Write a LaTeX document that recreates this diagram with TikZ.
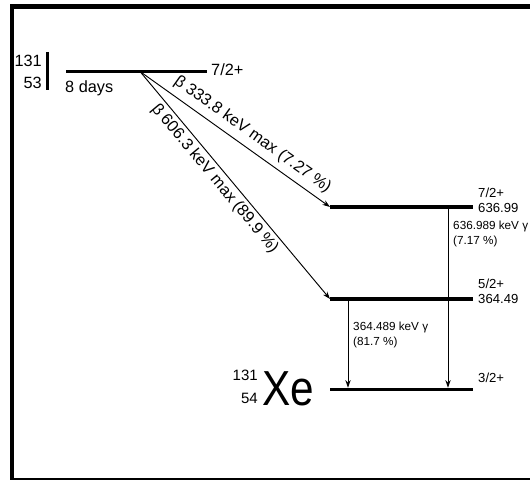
\documentclass[tikz,border=0pt]{standalone}
\usepackage{fontspec}
\setmainfont{Liberation Sans}
\usetikzlibrary{arrows.meta,positioning}

\begin{document}
\begin{tikzpicture}[x=0.03cm,y=-0.03cm,
  level/.style={line width=3.4pt},
  decay/.style={line width=0.8pt,-{Stealth[length=6.5pt,width=4.5pt]}},
  bigtext/.style={font=\fontsize{13.9}{16}\selectfont,inner sep=0pt},
  midtext/.style={font=\fontsize{11.2}{13}\selectfont,inner sep=0pt},
  smalltext/.style={font=\fontsize{10}{12}\selectfont,inner sep=0pt,align=left}]
  \useasboundingbox (0,0) rectangle (530,480);
  \draw[line width=3.7pt] (530,6.5) -- (12,6.5) -- (12,480.5) -- (530,480.5);

  \node[bigtext,anchor=base east] (iA) at (42,67) {131};
  \node[bigtext,anchor=base east] (iZ) at (42,89) {53};
  \draw[line width=3.4pt] (47.5,52) -- (47.5,90);

  \coordinate (top-l) at (66,71.5);
  \coordinate (top-r) at (207,71.5);
  \coordinate (beta) at (140,71.5);
  \draw[level] (top-l) -- (top-r);
  \node[bigtext,anchor=base west] (spin-top) at (211,76) {7/2+};
  \node[bigtext,anchor=base west] (halflife) at (65,93) {8 days};

  \coordinate (e637-l) at (330,207);
  \coordinate (e637-r) at (473,207);
  \draw[level] (e637-l) -- (e637-r);
  \node[midtext,anchor=base west] (spin637) at (478,197) {7/2+};
  \node[midtext,anchor=base west] (en637) at (478,213) {636.99};

  \coordinate (e364-l) at (330,299);
  \coordinate (e364-r) at (473,299);
  \draw[level] (e364-l) -- (e364-r);
  \node[midtext,anchor=base west] (spin364) at (478,288) {5/2+};
  \node[midtext,anchor=base west] (en364) at (478,303) {364.49};

  \coordinate (gnd-l) at (330,389.5);
  \coordinate (gnd-r) at (473,389.5);
  \draw[level] (gnd-l) -- (gnd-r);
  \node[midtext,anchor=base west] (spin-gnd) at (478,382) {3/2+};

  \draw[decay] (beta) -- node[bigtext,sloped,above=5pt,pos=0.55] (b333)
    {β 333.8 keV max (7.27 \%)} (e637-l);
  \draw[decay] (beta) -- node[bigtext,sloped,below=3pt,pos=0.44] (b606)
    {β 606.3 keV max (89.9 \%)} (e364-l);

  \coordinate (g637) at (448,207);
  \coordinate (g364) at (348,299);
  \draw[decay] (g637) -- ([yshift=1.5pt]g637 |- gnd-l);
  \draw[decay] (g364) -- ([yshift=1.5pt]g364 |- gnd-l);
  \node[smalltext,anchor=base west] (g637-lab) at (453,244)
    {636.989 keV γ\\(7.17 \%)};
  \node[smalltext,anchor=base west] (g364-lab) at (353,345)
    {364.489 keV γ\\(81.7 \%)};

  \node[font=\fontsize{42}{48}\selectfont,inner sep=0pt,anchor=base west,
    xscale=0.86] (xe) at (262,405) {Xe};
  \node[font=\fontsize{12.8}{15}\selectfont,inner sep=0pt,anchor=base east]
    (xe-a) at (258,380) {131};
  \node[font=\fontsize{12.8}{15}\selectfont,inner sep=0pt,anchor=base east]
    (xe-z) at (258,403) {54};
\end{tikzpicture}
\end{document}
